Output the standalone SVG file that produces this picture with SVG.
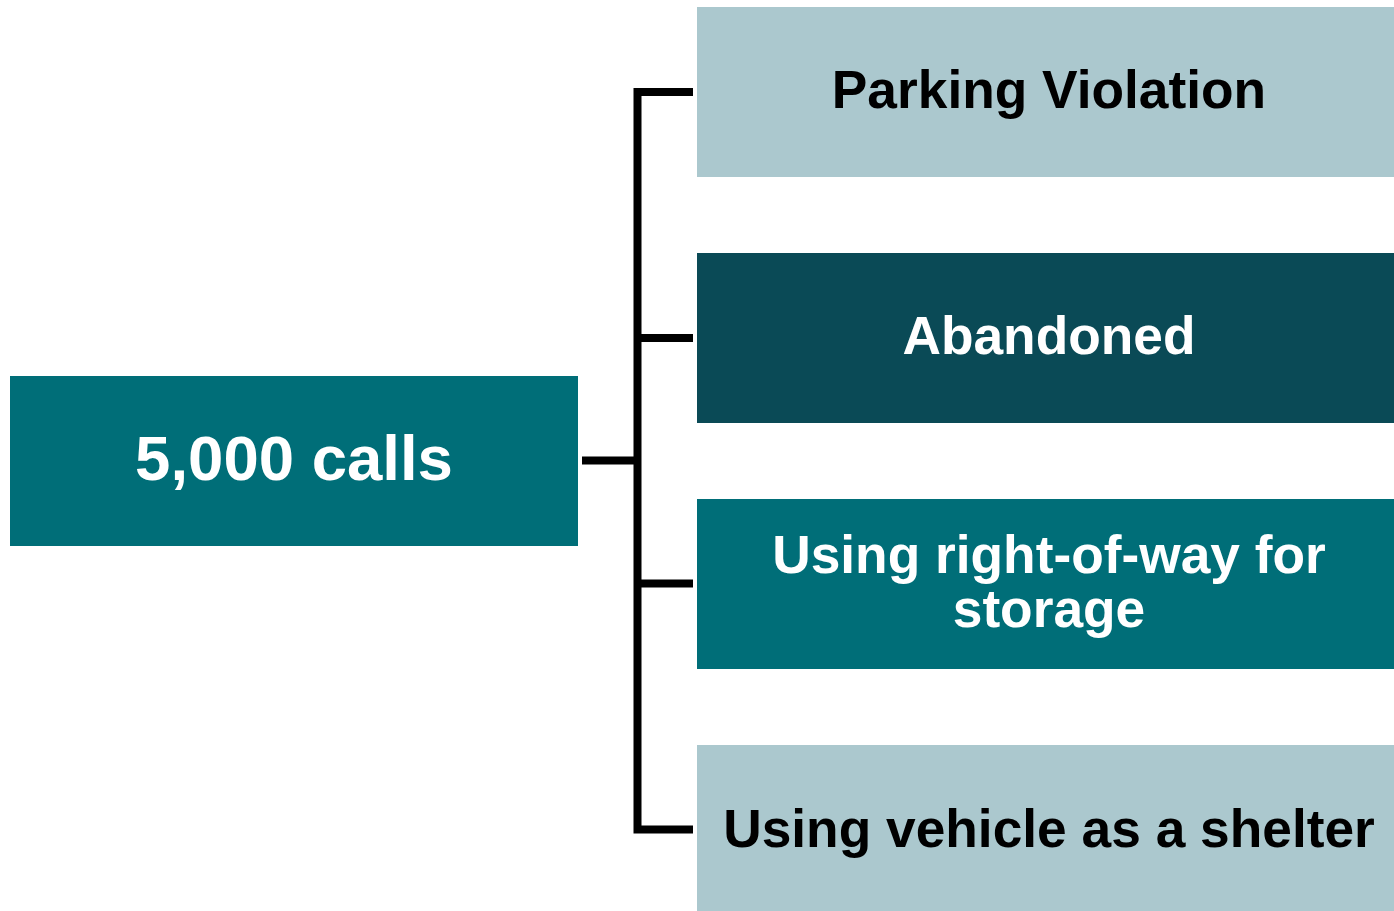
<svg xmlns="http://www.w3.org/2000/svg" width="1394" height="911" viewBox="0 0 1394 911">
<style>
text{font-family:"Liberation Sans",Arial,sans-serif;font-weight:bold;text-anchor:middle}
.light{fill:#ABC8CE}.dark{fill:#0A4A56}.teal{fill:#006E78}
.tb{fill:#000;font-size:53.3px}.tw{fill:#fff;font-size:53.3px}
.conn{stroke:#000;stroke-width:8;fill:none;stroke-linecap:butt;stroke-linejoin:miter}
</style>
<rect width="1394" height="911" fill="#fff"/>
<g id="connectors">
<path class="conn" d="M693 92 H637.5 V829.5 H693"/>
<path class="conn" d="M637.5 338 H693"/>
<path class="conn" d="M637.5 583.5 H693"/>
<path class="conn" d="M582 460.5 H637.5"/>
</g>
<g id="root"><rect class="teal" x="10" y="376" width="568" height="170"/><text class="tw" x="294" y="480" style="font-size:63.5px">5,000 calls</text></g>
<g id="parking"><rect class="light" x="697" y="7" width="704" height="170"/><text class="tb" x="1049" y="108">Parking Violation</text></g>
<g id="abandoned"><rect class="dark" x="697" y="253" width="704" height="170"/><text class="tw" x="1049" y="354">Abandoned</text></g>
<g id="storage"><rect class="teal" x="697" y="499" width="704" height="170"/><text class="tw" x="1049" y="573">Using right-of-way for</text><text class="tw" x="1049" y="627">storage</text></g>
<g id="shelter"><rect class="light" x="697" y="745" width="704" height="170"/><text class="tb" x="1049" y="847">Using vehicle as a shelter</text></g>
</svg>
